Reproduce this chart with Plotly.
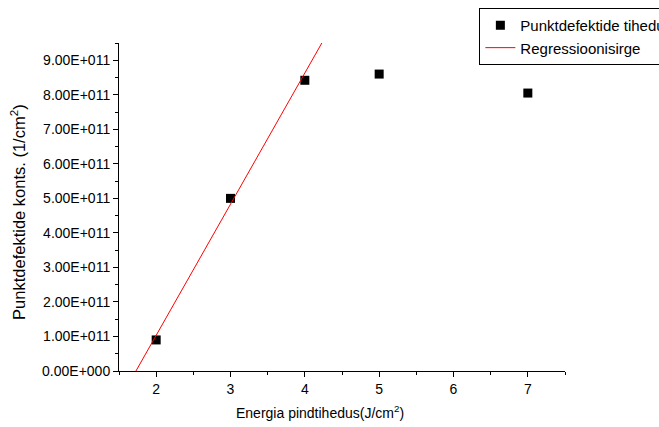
import plotly.graph_objects as go

# Measured point-defect concentration vs. laser energy density
energy = [2, 3, 4, 5, 7]
concentration = [0.90e11, 5.00e11, 8.42e11, 8.60e11, 8.05e11]

# Linear regression through the first three points (endpoints of fitted line)
reg_x = [1.728, 4.40]
reg_y = [0.0, 10.15e11]

y_tickvals = [i * 1e11 for i in range(10)]
y_ticktext = ["0.00E+000"] + [f"{i}.00E+011" for i in range(1, 10)]
x_tickvals = [2, 3, 4, 5, 6, 7]

x_title = "Energia pindtihedus(J/cm<sup>2</sup>)"
y_title = "Punktdefektide konts. (1/cm<sup>2</sup>)"

font = "Liberation Sans"

fig = go.Figure()
fig.add_trace(go.Scatter(
    x=energy, y=concentration, mode="markers",
    name="Punktdefektide tihedus",
    marker=dict(symbol="square", size=9, color="black"),
    cliponaxis=False,
))
fig.add_trace(go.Scatter(
    x=reg_x, y=reg_y, mode="lines",
    name="Regressioonisirge",
    line=dict(color="red", width=1),
))

# Axis titles placed as paper-anchored annotations
fig.add_annotation(text=x_title, xref="paper", yref="paper", x=0.4507, y=-0.125,
                   xanchor="center", yanchor="middle", showarrow=False,
                   font=dict(family=font, size=14, color="black"))
fig.add_annotation(text=y_title, xref="paper", yref="paper", x=-0.2265, y=0.485,
                   xanchor="center", yanchor="middle", showarrow=False, textangle=-90,
                   font=dict(family=font, size=16.5, color="black"))

fig.update_layout(
    width=659, height=427,
    margin=dict(l=119, r=94, t=43, b=56, autoexpand=False),
    paper_bgcolor="white", plot_bgcolor="white",
    font=dict(family=font, size=14, color="black"),
    showlegend=True,
    legend=dict(
        x=0.808, y=1.107, xanchor="left", yanchor="top",
        bordercolor="black", borderwidth=1, bgcolor="white",
        font=dict(family=font, size=15), tracegroupgap=0,
    ),
    xaxis=dict(
        range=[1.5, 7.5], tickvals=x_tickvals,
        showline=True, linecolor="black", linewidth=1,
        ticks="outside", ticklen=5, tickcolor="black",
        minor=dict(dtick=0.5, ticks="outside", ticklen=3, tickcolor="black"),
        showgrid=False, zeroline=False,
        tickfont=dict(family=font, size=14),
    ),
    yaxis=dict(
        range=[0, 9.5e11], tickvals=y_tickvals, ticktext=y_ticktext,
        showline=True, linecolor="black", linewidth=1,
        ticks="outside", ticklen=5, tickcolor="black",
        minor=dict(dtick=0.5e11, tick0=0, ticks="outside", ticklen=3, tickcolor="black"),
        showgrid=False, zeroline=False,
        tickfont=dict(family=font, size=14),
    ),
)

fig.write_html("out.html")
